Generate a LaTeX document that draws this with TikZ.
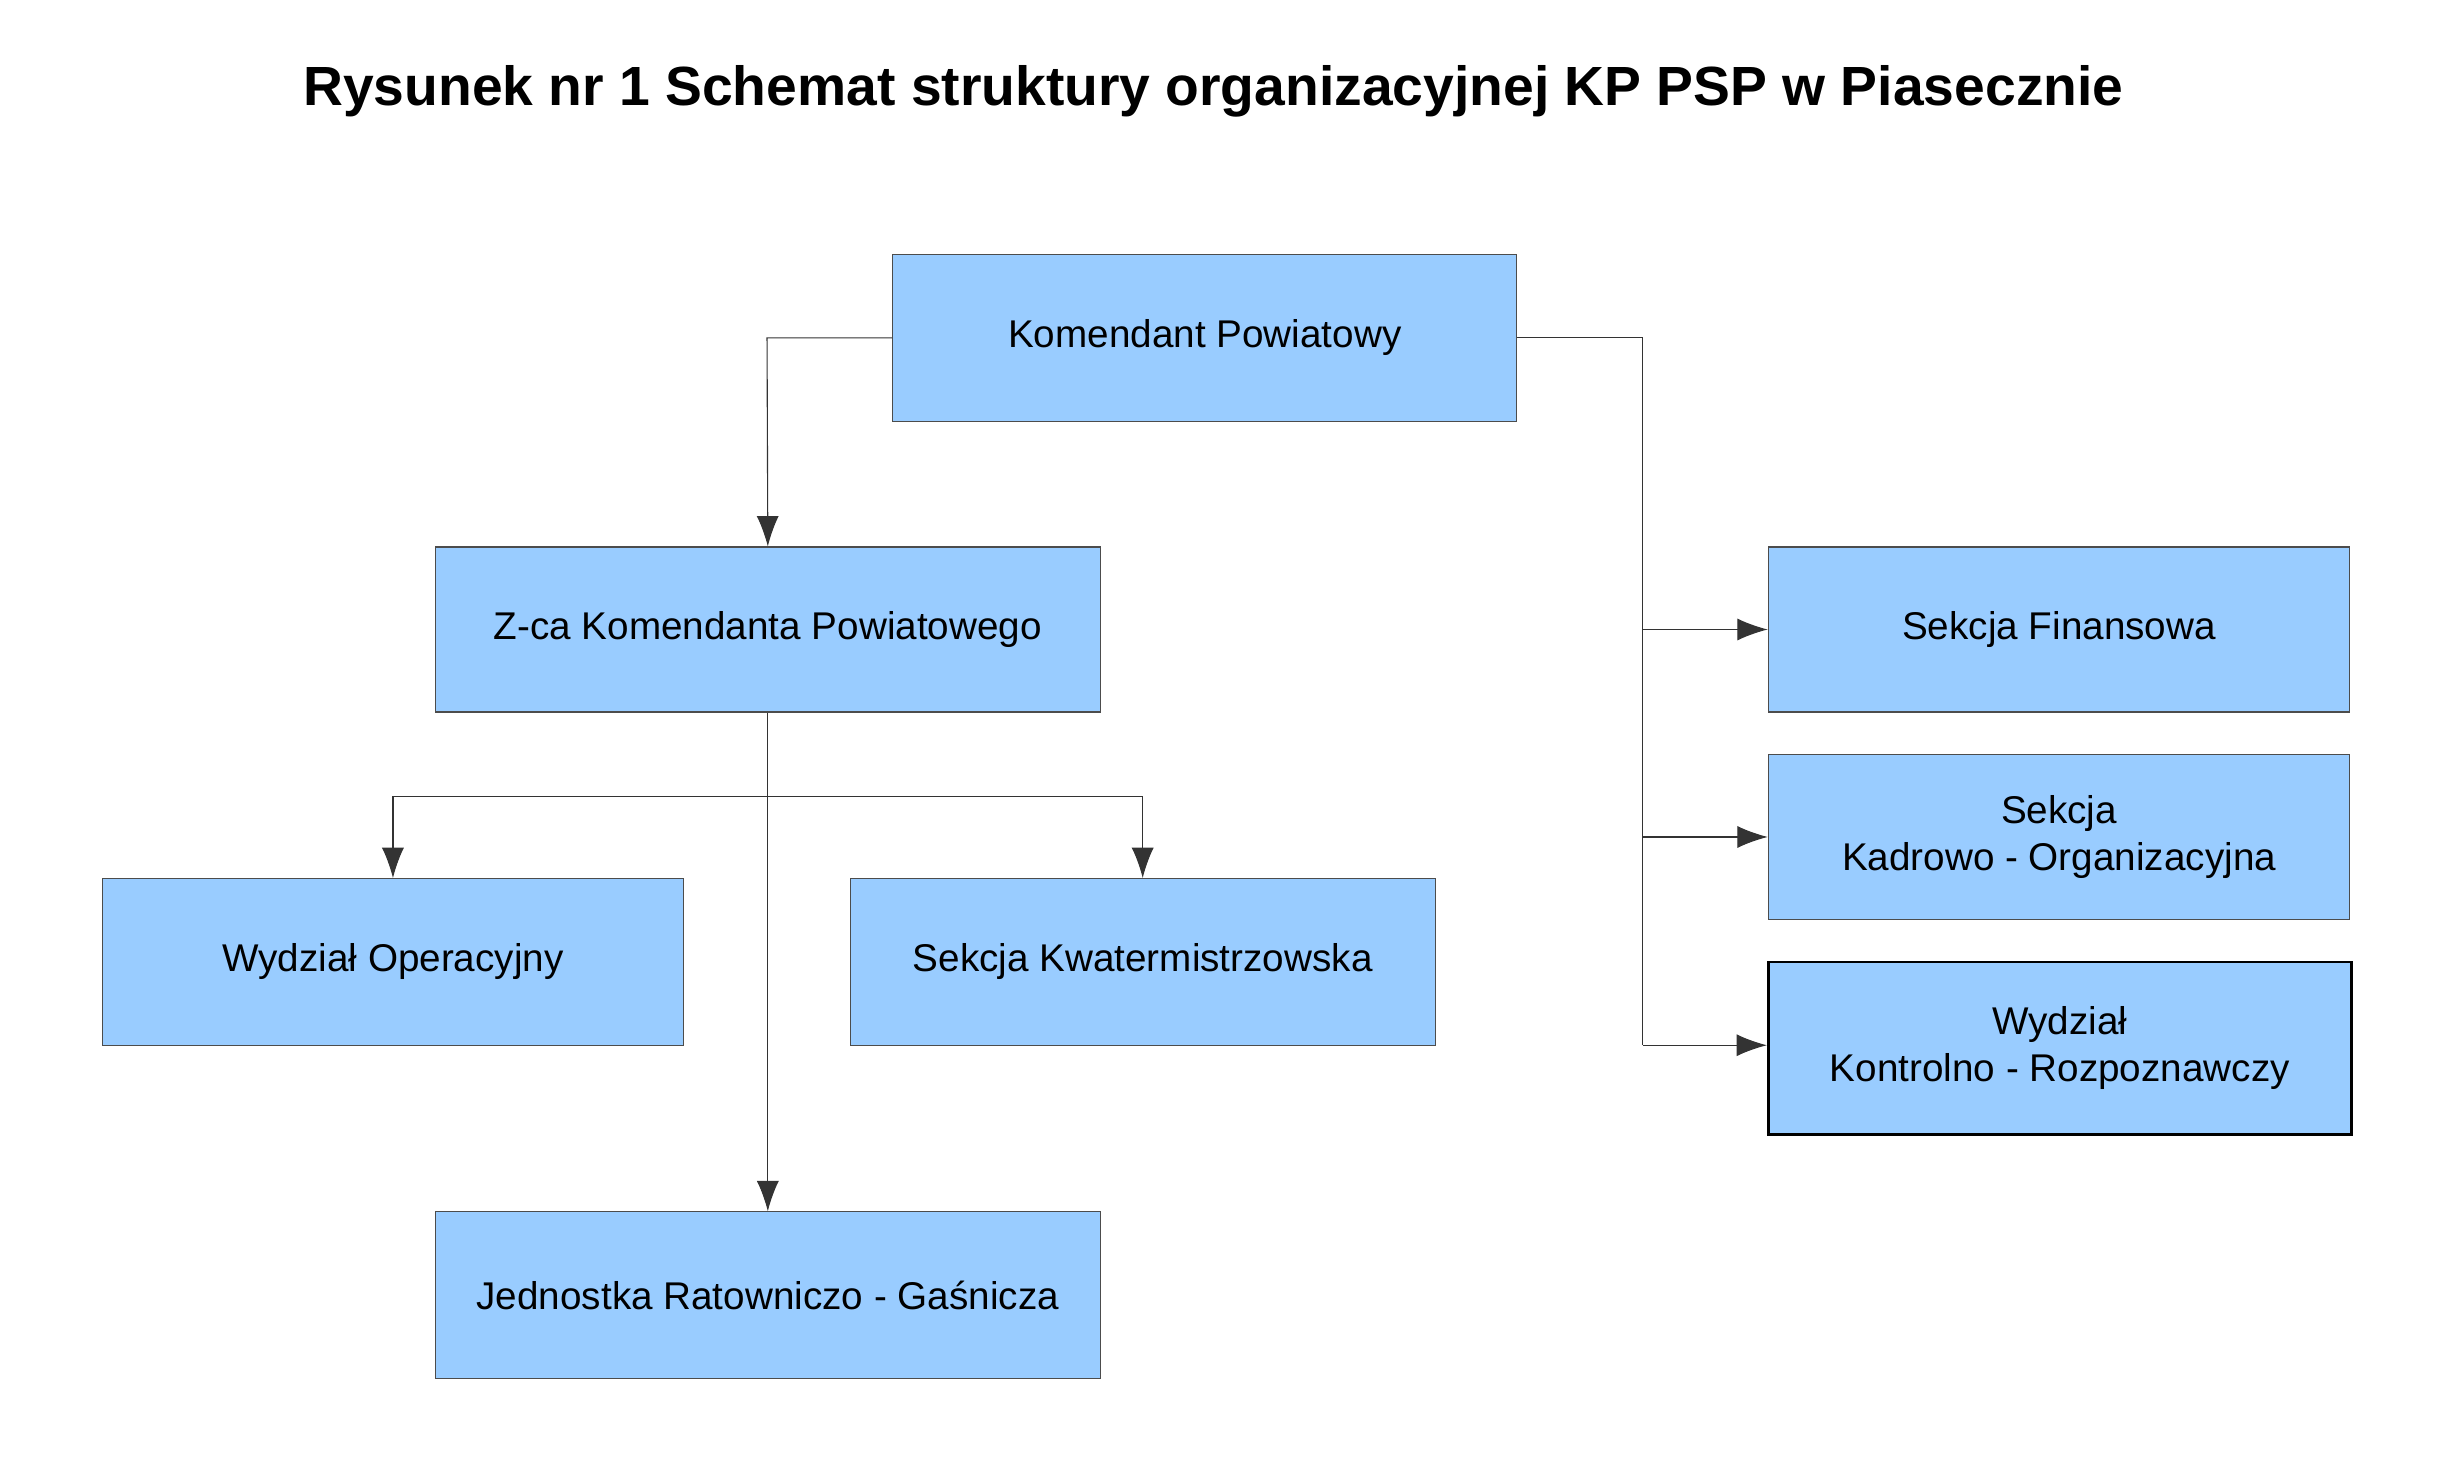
\documentclass[tikz,border=0pt]{standalone}
\usepackage{fontspec}
\setmainfont{Liberation Sans}
\usetikzlibrary{arrows.meta}

\begin{document}
\begin{tikzpicture}[x=0.02cm,y=-0.02cm,
	unit/.style={draw=black!70,fill=blue!40!cyan!30!white,fill={rgb,255:red,153;green,204;blue,255},inner sep=0pt,font=\fontsize{14}{17}\selectfont,align=center},
	link/.style={draw=black!80,line width=0.4pt,-{Latex[length=11pt,width=8pt]}},
	plain/.style={draw=black!80,line width=0.4pt}]
	\useasboundingbox (0,0) rectangle (1560,943.5);
	%\draw[help lines] (0,0) grid[step=100] (1560,943);
	\node[font=\bfseries\fontsize{20}{24}\selectfont] (title) at (772,58) {Rysunek nr 1 Schemat struktury organizacyjnej KP PSP w Piasecznie};
	\node[unit,minimum width=397*0.02cm,minimum height=106*0.02cm] (kp) at (766.5,215) {Komendant Powiatowy};
	\node[unit,minimum width=423*0.02cm,minimum height=105*0.02cm] (zca) at (488.5,400.5) {Z-ca Komendanta Powiatowego};
	\node[unit,minimum width=370*0.02cm,minimum height=106*0.02cm] (wo) at (250,612) {Wydział Operacyjny};
	\node[unit,minimum width=372*0.02cm,minimum height=106*0.02cm] (sk) at (727,612) {Sekcja Kwatermistrzowska};
	\node[unit,minimum width=423*0.02cm,minimum height=106*0.02cm] (jrg) at (488.5,824) {Jednostka Ratowniczo - Gaśnicza};
	\node[unit,minimum width=370*0.02cm,minimum height=105*0.02cm] (sf) at (1310,400.5) {Sekcja Finansowa};
	\node[unit,minimum width=370*0.02cm,minimum height=105*0.02cm] (sko) at (1310,532.5) {Sekcja\\Kadrowo - Organizacyjna};
	\node[unit,draw=black,line width=1pt,minimum width=371*0.02cm,minimum height=110*0.02cm] (wkr) at (1310.5,667) {Wydział\\Kontrolno - Rozpoznawczy};

	\coordinate (kpl) at (488,215);
	\coordinate (kpr) at (1045,215);
	\coordinate (rb) at (1045,665);
	\coordinate (zb) at (488,507);
	\draw[link] (kp.west) -- (kpl) -- (zca.north);
	\draw[plain] (kp.east) -- (kpr) -- (rb);
	\draw[link] (1045,400.5) -- (sf.west);
	\draw[link] (1045,532.5) -- (sko.west);
	\draw[link] (rb) -- (rb -| wkr.west);
	\draw[link] (zca.south) -- (jrg.north);
	\draw[link] (zb) -| (wo.north);
	\draw[link] (zb) -| (sk.north);
\end{tikzpicture}
\end{document}
